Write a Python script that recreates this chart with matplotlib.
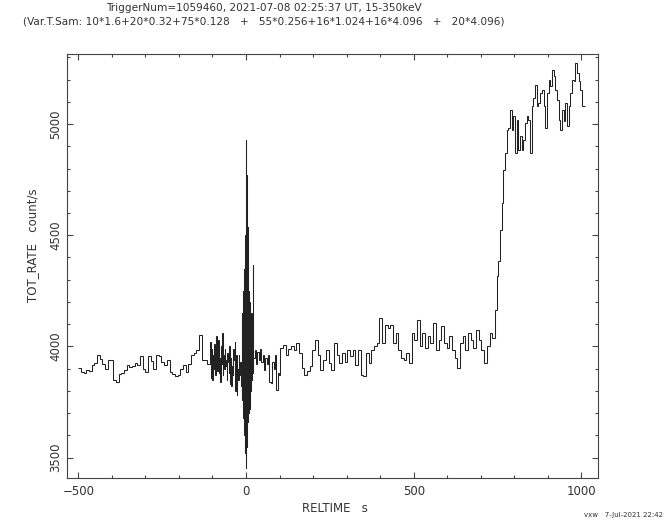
import matplotlib
matplotlib.use('Agg')
import matplotlib.pyplot as plt
import numpy as np

# Light curve segments: (start time, bin width, rates)
seg1_start, seg1_width = -500, 8
seg1_rate = [3903, 3885, 3880, 3895, 3888, 3915, 3925, 3962, 3945, 3920,
             3900, 3940, 3938, 3850, 3842, 3875, 3880, 3895, 3915, 3908,
             3912, 3925, 3918, 3955, 3900, 3885, 3955, 3935, 3900, 3962,
             3955, 3930, 3915, 3940, 3885, 3878, 3865, 3872, 3900, 3915,
             3885, 3920, 3960, 3970, 3985, 4052, 3940, 3938, 3920]

seg2_start, seg2_width = -108, 2
seg2_rate = [3925, 4020, 3860, 3990, 3850, 3960, 3900, 4010, 3870, 3980,
             4045, 3890, 4030, 3880, 3950, 3840, 4000, 3920, 4060, 3870,
             3960, 3900, 3990, 3940, 3910, 3850, 3970, 3930, 3880, 4000,
             3830, 3950, 3820, 3910, 3870, 3990, 3940, 4020, 3800, 3960,
             3780, 3900, 3850, 3960, 3870, 3930, 3820, 3900]

seg3_start, seg3_width = -12, 0.5
seg3_rate = [3980, 3760, 4150, 3820, 4120, 3700, 4200, 3760, 4250, 3680, 4300, 3700,
             4350, 3650, 4300, 3600, 4450, 3560, 4400, 3520,
             4500, 3600, 4660, 3455, 4930, 3500, 4773, 3550,
             4450, 3620, 4400, 3680, 4300, 3660, 4250, 3700, 4535, 3690, 4200, 3720,
             4250, 3700, 4150, 3750, 4200, 3720, 4100, 3760, 4150, 3780, 4080, 3800,
             4050, 3820, 4100, 3800, 4150, 3850, 4020, 3880, 4060, 3860, 3980, 3900,
             4368, 3880, 3960, 3920]

seg4_start, seg4_width = 22, 4
seg4_rate = [3950, 3985, 3920, 3975, 3940, 3990, 3930, 3960, 3895, 3950,
             3920, 3960, 3840, 3835, 3930, 3900, 3960, 3805, 3880, 3870]

seg5_start, seg5_width = 102, 8
seg5_rate = [3992, 4008, 3962, 3990, 4000, 3985, 4015, 3970, 3902, 3872,
             3890, 3910, 3985, 4030, 3960, 3895, 3940, 3985, 3925, 3895,
             4015, 3962, 3925, 3970, 3932, 3985, 3955, 3985, 3917, 3985,
             3872, 3865, 3970, 3925, 3985, 4000, 4015, 4127, 4015, 4097,
             4082, 4097, 4015, 4060, 3985, 3947, 3940, 3970, 3925, 4060,
             4030, 4120, 4000, 4060, 3992, 4045, 4015, 4105, 3985, 4030,
             4090, 4015, 3992, 4045, 3985, 3947, 3902, 4015, 4045, 3985,
             4060, 4030, 3992, 4075, 4030, 3985, 3925, 4000, 4060, 4040]

seg6_start, seg6_width = 742, 5
seg6_rate = [4165, 4315, 4382, 4525, 4645, 4795, 4870, 4975, 4982, 5065,
             4975, 5035, 4870, 5020, 4885, 4945, 4885, 4930, 5005, 5035,
             5020, 4870, 5080, 5117, 5177, 5080, 5095, 5140, 5155, 5080,
             4982, 5140, 5200, 5170, 5245, 5215, 5155, 5110, 5020, 4975,
             5065, 5012, 5095, 4990, 5080, 5140, 5200, 5192, 5275, 5230,
             5192, 5155, 5080, 5080]

segments = [(seg1_start, seg1_width, seg1_rate),
            (seg2_start, seg2_width, seg2_rate),
            (seg3_start, seg3_width, seg3_rate),
            (seg4_start, seg4_width, seg4_rate),
            (seg5_start, seg5_width, seg5_rate),
            (seg6_start, seg6_width, seg6_rate)]

edges = [segments[0][0]]
rates = []
for start, width, vals in segments:
    e = start + width * np.arange(1, len(vals) + 1)
    edges.extend(e.tolist())
    rates.extend(vals)

fig = plt.figure(figsize=(6.65, 5.32), dpi=100)
ax = fig.add_axes([0.1003, 0.1009, 0.7985, 0.7976])

ax.stairs(rates, edges, baseline=None, color='#222222', linewidth=0.75)

ax.set_xlim(-534.6, 1048.6)
ax.set_ylim(3407, 5315)
ax.set_xticks([-500, 0, 500, 1000])
ax.set_xticks(np.arange(-500, 1001, 100), minor=True)
ax.set_yticks([3500, 4000, 4500, 5000])
ax.set_yticks(np.arange(3500, 5301, 100), minor=True)

txt = '#333333'
for s in ax.spines.values():
    s.set_color('#444444')
    s.set_linewidth(0.8)
ax.tick_params(which='both', direction='in', top=True, right=True,
               color='#444444', labelcolor=txt, labelsize=8.5)
ax.tick_params(which='major', length=4.5, width=0.8)
ax.tick_params(which='minor', length=2.5, width=0.8)
ax.tick_params(axis='x', pad=5)
ax.tick_params(axis='y', pad=3)
for lab in ax.get_yticklabels():
    lab.set_rotation(90)
    lab.set_va('center')

# Titles and labels
fig.text(264 / 665, 1 - 8 / 532,
         'TriggerNum=1059460, 2021-07-08 02:25:37 UT, 15-350keV',
         ha='center', va='center', fontsize=7.6, color=txt)
fig.text(264 / 665, 1 - 21 / 532,
         '(Var.T.Sam: 10*1.6+20*0.32+75*0.128   +   55*0.256+16*1.024+16*4.096   +   20*4.096)',
         ha='center', va='center', fontsize=7.6, color=txt)
fig.text(335 / 665, 1 - 508 / 532, 'RELTIME   s', ha='center', va='center',
         fontsize=8.5, color=txt)
fig.text(33 / 665, 1 - 245 / 532, 'TOT_RATE   count/s', ha='center', va='center',
         rotation=90, fontsize=8.5, color=txt)
fig.text(663 / 665, 1 - 515 / 532, 'vxw   7-Jul-2021 22:42', ha='right',
         va='center', fontsize=5, color=txt)

fig.savefig('out.png', dpi=100)
